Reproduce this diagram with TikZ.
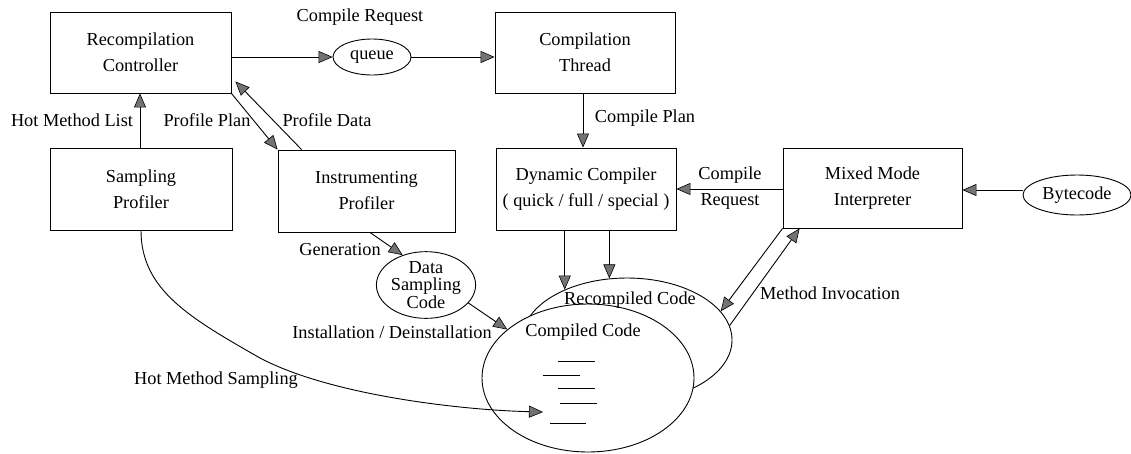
\documentclass[tikz,border=0pt]{standalone}
\usepackage{fontspec}
\setmainfont{Liberation Serif}
\usetikzlibrary{arrows.meta,calc,shapes.geometric}
\begin{document}
\begin{tikzpicture}[x=1pt,y=-1pt,
  font=\fontsize{18.3}{26}\selectfont,
  box/.style={draw,line width=0.9pt,rectangle,align=center,inner sep=0pt},
  oval/.style={draw,line width=0.9pt,ellipse,inner sep=0pt,align=center},
  lbl/.style={inner sep=0pt,align=center},
  arr/.style={draw,line width=0.9pt,-{Triangle[length=14pt,width=12pt,fill=black!55,line width=0.6pt]}},
  ln/.style={draw,line width=0.9pt}
]
\useasboundingbox (0,0) rectangle (1131,453);
% boxes
\node[box,minimum width=181pt,minimum height=81pt] (rc) at (140.5,52.5) {Recompilation\\Controller};
\node[box,minimum width=182pt,minimum height=82pt] (sp) at (141,189) {Sampling\\Profiler};
\node[box,minimum width=177pt,minimum height=82pt] (ip) at (366.5,191) {Instrumenting\\Profiler};
\node[box,minimum width=180pt,minimum height=81pt] (ct) at (585,52.5) {Compilation\\Thread};
\node[box,minimum width=180pt,minimum height=82pt] (dc) at (586,189) {Dynamic Compiler\\( quick / full / special )};
\node[box,minimum width=179pt,minimum height=80pt] (mmi) at (872.5,188) {Mixed Mode\\Interpreter};
% ovals
\node[oval,minimum width=78pt,minimum height=36pt] (queue) at (372,57) {queue};
\node[oval,minimum width=108pt,minimum height=40pt] (byte) at (1077,195) {Bytecode};
\node[oval,minimum width=86pt,minimum height=66pt,font=\fontsize{18.3}{17.5}\selectfont] (dsc) at (426,285) {Data\\Sampling\\Code};
\node[oval,minimum width=210pt,minimum height=124pt] (recomp) at (627,340) {};
\node[oval,fill=white,minimum width=212pt,minimum height=148pt] (comp) at (588,378) {};
\node[lbl] (recompl) at (630,300) {Recompiled Code};
\node[lbl] (compl) at (583,332) {Compiled Code};
% code lines
\coordinate (c1) at (558,361); \coordinate (c1e) at (595,361);
\coordinate (c2) at (543,375); \coordinate (c2e) at (580,375);
\coordinate (c3) at (558,388); \coordinate (c3e) at (595,388);
\coordinate (c4) at (560,403); \coordinate (c4e) at (597,403);
\coordinate (c5) at (550,423); \coordinate (c5e) at (586,423);
\draw[ln] (c1)--(c1e) (c2)--(c2e) (c3)--(c3e) (c4)--(c4e) (c5)--(c5e);
% labels
\node[lbl] (lcr) at (360,17) {Compile Request};
\node[lbl] (lhml) at (72,120) {Hot Method List};
\node[lbl] (lpp) at (207,120) {Profile Plan};
\node[lbl] (lpd) at (327,120) {Profile Data};
\node[lbl] (lcp) at (645,118) {Compile Plan};
\node[lbl] (lcreq) at (730,188) {Compile\\Request};
\node[lbl] (lmi) at (830,293) {Method Invocation};
\node[lbl] (lgen) at (340,250) {Generation};
\node[lbl] (linst) at (392,332) {Installation / Deinstallation};
\node[lbl] (lhms) at (216,380) {Hot Method Sampling};
% helper coordinates
\coordinate (xhml) at (140,0);
\coordinate (xcp) at (583,0);
\coordinate (ycr) at (0,189);
\coordinate (yby) at (0,190);
% connectors
\draw[arr] (rc.east |- queue.west) -- (queue.west);
\draw[arr] (queue.east) -- (ct.west |- queue.east);
\draw[arr] (sp.north -| xhml) -- (rc.south -| xhml);
\draw[arr] (rc.south east) -- (ip.north west);
\draw[arr] ($(ip.north west)+(24,0)$) -- ($(rc.south east)+(4,-12)$);
\draw[arr] (ct.south -| xcp) -- (dc.north -| xcp);
\draw[arr] (mmi.west |- ycr) -- (dc.east |- ycr);
\draw[arr] (byte.west |- yby) -- (mmi.east |- yby);
\draw[arr] (recomp.141 |- dc.south) -- (recomp.141);
\draw[arr] (recomp.106 |- dc.south) -- (recomp.106);
\draw[arr] (mmi.south west) -- (recomp.17);
\draw[arr] (recomp.8.5) -- ($(mmi.south west)+(17,0)$);
\draw[arr] ($(ip.south)+(3.5,0)$) -- (dsc.128);
\draw[arr] (dsc.-23) -- (comp.149);
\coordinate (hms) at (543,412);
\draw[arr] (sp.south) .. controls (141,290) and (190,318) .. (260,358) .. controls (330,395) and (460,410) .. (hms);
\end{tikzpicture}
\end{document}
